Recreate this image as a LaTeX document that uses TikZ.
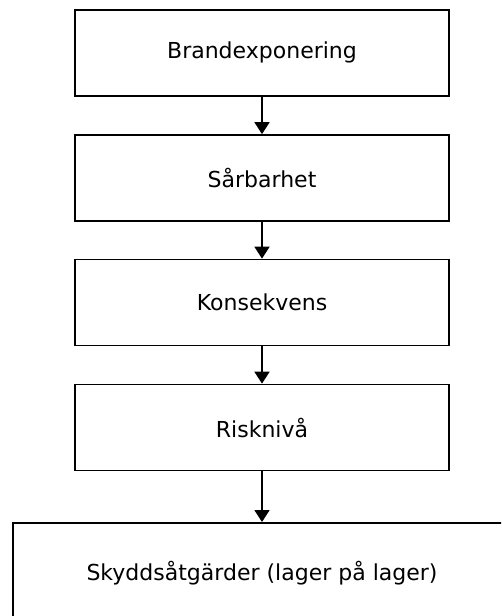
\documentclass[tikz,border=0pt]{standalone}
\usepackage{fontspec}
\setmainfont{DejaVu Sans}
\usetikzlibrary{arrows.meta}
\begin{document}
\begin{tikzpicture}[x=1pt,y=-1pt,
  lbl/.style={font=\fontsize{22}{26}\selectfont},
  box/.style={draw,line width=1.7pt,minimum width=374pt,minimum height=86pt,inner sep=0pt,lbl},
  conn/.style={line width=1.7pt,-{Triangle[width=15pt,length=12pt]}}]
\useasboundingbox (0,0) rectangle (501,616);
\node[box] (a) at (262,52.75) {Brandexponering};
\node[box] (b) at (262,178) {Sårbarhet};
\node[box] (c) at (262,302.5) {Konsekvens};
\node[box] (d) at (262,427.5) {Risknivå};
\begin{scope}
\clip (0,0) rectangle (501,616);
\node[box,minimum width=520pt,minimum height=104pt,anchor=north west] (e) at (12.3,522) {};
\end{scope}
\node[lbl] (et) at (262,573) {Skyddsåtgärder (lager på lager)};
\draw[conn] (a) -- (b);
\draw[conn] (b) -- (c);
\draw[conn] (c) -- (d);
\draw[conn] (d.south) -- (d.south |- e.north);
\end{tikzpicture}
\end{document}
